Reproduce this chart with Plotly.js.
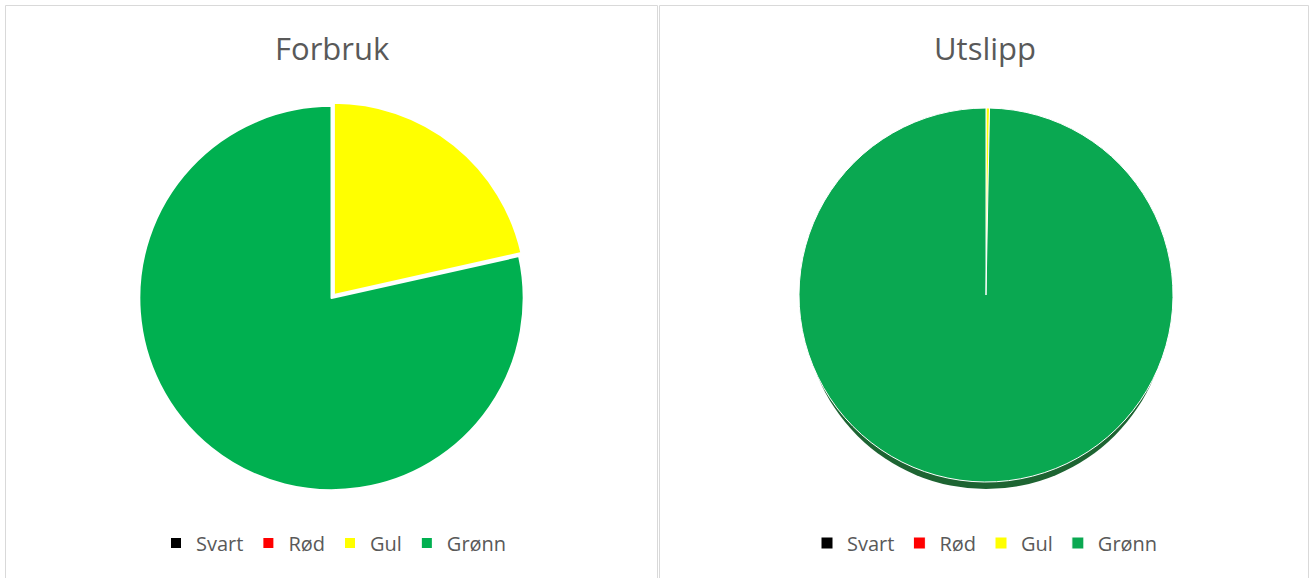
<!DOCTYPE html>
<html>
<head>
<meta charset="utf-8">
<script src="https://cdn.plot.ly/plotly-3.0.1.min.js"></script>
<style>html,body{margin:0;padding:0;background:#fff;}#chart{width:1310px;height:578px;}</style>
</head>
<body>
<div id="chart"></div>
<script>
// Data
const categories = ["Svart", "Rød", "Gul", "Grønn"];
const colors = ["#000000", "#FF0000", "#FFFF00", "#00B050"];
const forbrukValues = [0, 0, 21.5, 78.5];
const utslippValues = [0, 0, 0.3, 99.7];
const chartTitles = ["Forbruk", "Utslipp"];
const utslippColors = ["#000000", "#FF0000", "#FFFF00", "#0AA851"];

const W = 1310, H = 578;
const px = v => v / W;
const py = v => 1 - v / H;

const traces = [
  {
    type: "pie",
    labels: categories,
    values: forbrukValues,
    marker: { colors: colors, line: { color: "#ffffff", width: 2 } },
    pull: [0, 0, 0.02, 0],
    sort: false,
    direction: "clockwise",
    rotation: 0,
    textinfo: "none",
    hoverinfo: "label+percent",
    domain: { x: [px(135.5), px(527.5)], y: [py(494), py(102)] },
    legend: "legend",
    legendgroup: "a",
    showlegend: true
  },
  {
    type: "pie",
    labels: categories,
    values: utslippValues,
    marker: { colors: utslippColors, line: { color: "#ffffff", width: 1 } },
    sort: false,
    direction: "clockwise",
    rotation: 0,
    textinfo: "none",
    hoverinfo: "label+percent",
    domain: { x: [px(799), px(1173)], y: [py(482), py(108)] },
    legend: "legend2",
    legendgroup: "b",
    showlegend: true
  }
];

const legendFont = { family: "Open Sans, sans-serif", size: 20, color: "#595959" };

const layout = {
  width: W,
  height: H,
  margin: { l: 0, r: 0, t: 0, b: 0 },
  paper_bgcolor: "#ffffff",
  font: { family: "Open Sans, sans-serif", color: "#595959" },
  legend: {
    orientation: "h", x: px(334), xanchor: "center", y: py(543), yanchor: "middle",
    font: legendFont, bgcolor: "rgba(0,0,0,0)", traceorder: "normal"
  },
  legend2: {
    orientation: "h", x: px(985), xanchor: "center", y: py(543), yanchor: "middle",
    font: legendFont, bgcolor: "rgba(0,0,0,0)", traceorder: "normal"
  },
  annotations: [
    { text: chartTitles[0], x: px(332), y: py(48), xref: "paper", yref: "paper",
      xanchor: "center", yanchor: "middle", showarrow: false,
      font: { family: "Open Sans, sans-serif", size: 31, color: "#595959" } },
    { text: chartTitles[1], x: px(985), y: py(48), xref: "paper", yref: "paper",
      xanchor: "center", yanchor: "middle", showarrow: false,
      font: { family: "Open Sans, sans-serif", size: 31, color: "#595959" } }
  ],
  shapes: [
    // panel borders
    { type: "line", xref: "paper", yref: "paper", x0: px(5.5), x1: px(657.5), y0: py(5.5), y1: py(5.5), line: { color: "#d9d9d9", width: 1 } },
    { type: "line", xref: "paper", yref: "paper", x0: px(5.5), x1: px(5.5), y0: py(5.5), y1: py(600), line: { color: "#d9d9d9", width: 1 } },
    { type: "line", xref: "paper", yref: "paper", x0: px(657.5), x1: px(657.5), y0: py(5.5), y1: py(600), line: { color: "#d9d9d9", width: 1 } },
    { type: "line", xref: "paper", yref: "paper", x0: px(659.5), x1: px(1308.5), y0: py(5.5), y1: py(5.5), line: { color: "#d9d9d9", width: 1 } },
    { type: "line", xref: "paper", yref: "paper", x0: px(659.5), x1: px(659.5), y0: py(5.5), y1: py(600), line: { color: "#d9d9d9", width: 1 } },
    { type: "line", xref: "paper", yref: "paper", x0: px(1308.5), x1: px(1308.5), y0: py(5.5), y1: py(600), line: { color: "#d9d9d9", width: 1 } },
    // shadow under the Utslipp pie
    { type: "circle", xref: "paper", yref: "paper", layer: "below",
      x0: px(804), x1: px(1168), y0: py(489), y1: py(125),
      fillcolor: "#1d6432", line: { width: 0 } }
  ]
};

Plotly.newPlot("chart", traces, layout, { displayModeBar: false, staticPlot: true });
</script>
</body>
</html>
